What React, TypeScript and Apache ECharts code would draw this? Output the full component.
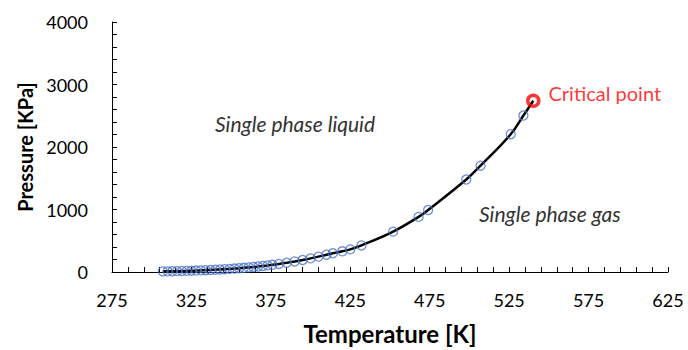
import { useEffect, useRef } from "react";
import * as echarts from "echarts";

// Vapour pressure curve of n-heptane (temperature in K, pressure in kPa)
const temperatureK = [
  307, 310, 313, 316, 319, 322, 325, 328, 331, 334, 337, 340, 343, 346, 349,
  352, 355, 358, 361, 364, 367, 370, 373, 376, 380, 385, 390, 395, 400, 405,
  410, 414, 420, 425, 432, 452, 468, 474, 498, 507, 526, 534,
];
const pressureKPa = [
  9.3, 10.7, 12.2, 14.0, 15.9, 18.0, 20.4, 22.9, 25.8, 28.9, 32.4, 36.2, 40.3,
  44.7, 49.6, 54.9, 60.6, 66.8, 73.5, 80.7, 88.4, 96.7, 105.6, 115, 129, 148,
  169, 192, 218, 246, 277, 300, 331, 362, 425, 646, 882, 992, 1480, 1701, 2205,
  2504,
];
const criticalT = [540.2];
const criticalP = [2740];

const xRange = [275, 625];
const xStep = 50;
const yRange = [0, 4000];
const yStep = 1000;

const FONT = "Lato, 'Open Sans', sans-serif";

export default function App() {
  const ref = useRef<HTMLDivElement>(null);

  useEffect(() => {
    if (!ref.current) return;
    document.body.style.margin = "0";
    const chart = echarts.init(ref.current, undefined, { renderer: "svg" });

    // x values are shifted so the axis ticks start at the left bound
    const x0 = xRange[0];
    const measured = temperatureK.map((t, i) => [t - x0, pressureKPa[i]]);
    const critical = criticalT.map((t, i) => [t - x0, criticalP[i]]);
    const curve = measured.concat(critical);

    chart.setOption({
      animation: false,
      backgroundColor: "#fff",
      grid: { left: 112, right: 20, top: 22, bottom: 74 },
      xAxis: {
        type: "value",
        min: 0,
        max: xRange[1] - x0,
        interval: xStep,
        name: "Temperature [K]",
        nameLocation: "middle",
        nameGap: 49,
        nameTextStyle: { fontFamily: FONT, fontSize: 24, fontWeight: "bold", color: "#000" },
        axisLine: { lineStyle: { color: "#000", width: 1 } },
        axisTick: { inside: true, length: 5, lineStyle: { color: "#000" } },
        minorTick: { show: true, splitNumber: 5, length: 5, lineStyle: { color: "#000" } },
        splitLine: { show: false },
        axisLabel: {
          formatter: (v: number) => String(v + x0),
          margin: 19,
          fontFamily: FONT,
          fontSize: 18,
          color: "#000",
        },
      },
      yAxis: {
        type: "value",
        min: yRange[0],
        max: yRange[1],
        interval: yStep,
        name: "Pressure [KPa]",
        nameLocation: "middle",
        nameGap: 72,
        nameTextStyle: { fontFamily: FONT, fontSize: 20, fontWeight: "bold", color: "#000" },
        axisLine: { show: true, lineStyle: { color: "#000", width: 1 } },
        axisTick: { show: true, inside: true, length: 5, lineStyle: { color: "#000" } },
        minorTick: { show: true, splitNumber: 5, length: 5, lineStyle: { color: "#000" } },
        splitLine: { show: false },
        axisLabel: {
          formatter: (v: number) => String(v),
          margin: 24,
          fontFamily: FONT,
          fontSize: 18,
          color: "#000",
        },
      },
      series: [
        {
          type: "line",
          data: curve,
          smooth: 0.4,
          showSymbol: false,
          lineStyle: { color: "#000", width: 2.5 },
          z: 2,
        },
        {
          type: "scatter",
          data: measured,
          symbol: "circle",
          symbolSize: 9,
          itemStyle: { color: "rgba(0,0,0,0)", borderColor: "#4a72c8", borderWidth: 1.3 },
          z: 3,
        },
        {
          type: "scatter",
          data: critical,
          symbol: "circle",
          symbolSize: 11,
          itemStyle: { color: "rgba(0,0,0,0)", borderColor: "#ff0000", borderWidth: 3.5 },
          label: {
            show: true,
            formatter: "Critical point",
            position: "right",
            distance: 8,
            offset: [0, -8],
            color: "#ff0000",
            fontFamily: FONT,
            fontSize: 20,
          },
          z: 4,
        },
      ],
      graphic: [
        {
          type: "text",
          left: 215,
          top: 113,
          style: {
            text: "Single phase liquid",
            font: `italic 21px ${FONT}`,
            fill: "#333",
          },
        },
        {
          type: "text",
          left: 479,
          top: 203,
          style: {
            text: "Single phase gas",
            font: `italic 21px ${FONT}`,
            fill: "#333",
          },
        },
      ],
    });

    return () => chart.dispose();
  }, []);

  return (
    <div
      ref={ref}
      style={{ position: "absolute", left: 0, top: 0, width: 688, height: 350 }}
    />
  );
}
